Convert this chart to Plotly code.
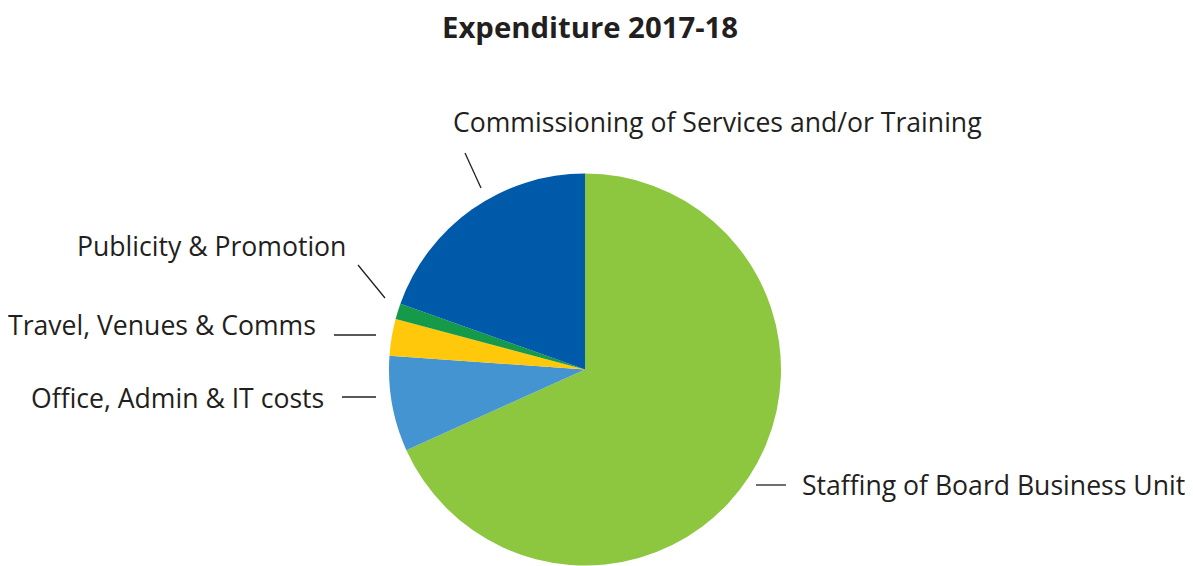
import plotly.graph_objects as go

# ---- data (percent shares) ----
categories = [
    "Staffing of Board Business Unit",
    "Office, Admin & IT costs",
    "Travel, Venues & Comms",
    "Publicity & Promotion",
    "Commissioning of Services and/or Training",
]
values = [68.25, 7.86, 3.03, 1.31, 19.55]
colors = ["#8DC63F", "#4494D1", "#FFC80B", "#149A48", "#005AAA"]

title_text = "Expenditure 2017-18"

W, H = 1193, 566
OFF = 8  # page body margin
TEXT_COLOR = "#231F20"
FONT = "Open Sans"

# ---- label layout (pixel positions of labels and leader lines) ----
label_layout = [
    dict(tx=800, ty=485, anchor="left", line=(756, 485, 786, 485)),
    dict(tx=326, ty=398, anchor="right", line=(342, 397, 376, 397)),
    dict(tx=318, ty=325, anchor="right", line=(334, 335, 376, 335)),
    dict(tx=348, ty=246, anchor="right", line=(358, 265, 385, 298)),
    dict(tx=451, ty=122, anchor="left", line=(465, 153, 481, 188)),
]


def px(x):
    return (x - OFF) / W


def py(y):
    return 1 - (y - OFF) / H


cx, cy, R = 585, 369.5, 196

fig = go.Figure(
    go.Pie(
        labels=categories,
        values=values,
        sort=False,
        direction="clockwise",
        rotation=0,
        marker=dict(colors=colors, line=dict(width=0)),
        textinfo="none",
        hoverinfo="label+percent",
        showlegend=False,
        domain=dict(x=[px(cx - R), px(cx + R)], y=[py(cy + R), py(cy - R)]),
    )
)

annotations = [
    dict(
        text="<b>%s</b>" % title_text,
        x=px(589.5), y=py(27), xref="paper", yref="paper",
        xanchor="center", yanchor="middle", showarrow=False,
        font=dict(family=FONT, size=29.3, color=TEXT_COLOR),
    )
]
shapes = []
for name, lay in zip(categories, label_layout):
    annotations.append(
        dict(
            text=name, x=px(lay["tx"]), y=py(lay["ty"]), xref="paper", yref="paper",
            xanchor=lay["anchor"], yanchor="middle", showarrow=False,
            font=dict(family=FONT, size=26.6, color=TEXT_COLOR),
        )
    )
    x0, y0, x1, y1 = lay["line"]
    shapes.append(
        dict(
            type="line", xref="paper", yref="paper",
            x0=px(x0), y0=py(y0), x1=px(x1), y1=py(y1),
            line=dict(color=TEXT_COLOR, width=1.3),
        )
    )

fig.update_layout(
    width=W, height=H,
    margin=dict(l=0, r=0, t=0, b=0),
    paper_bgcolor="white",
    plot_bgcolor="white",
    annotations=annotations,
    shapes=shapes,
    font=dict(family=FONT, color=TEXT_COLOR),
)

fig.write_html("out.html")
